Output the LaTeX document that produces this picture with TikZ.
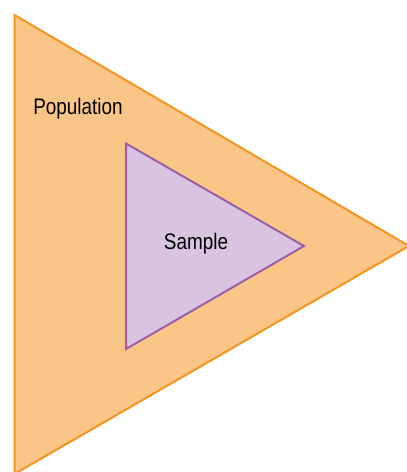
\documentclass[tikz,border=0pt]{standalone}
\usepackage{fontspec}
\newfontfamily\narrowfont[FakeStretch=0.84]{Liberation Sans}
\usetikzlibrary{positioning}
\definecolor{popOrange}{RGB}{247, 148, 30}
\definecolor{popLightOrange}{RGB}{250, 198, 136}
\definecolor{samplePurple}{RGB}{155, 95, 170}
\definecolor{sampleLightPurple}{RGB}{216, 196, 224}

\begin{document}
\begin{tikzpicture}[
  x=1pt, y=-1pt,
  region/.style={line width=2pt, line join=miter},
  label/.style={font=\narrowfont\fontsize{22.5}{26}\selectfont, text=black, inner sep=0pt}
]
  \useasboundingbox (0,0) rectangle (407,472);
  % population
  \coordinate (popTop) at (14.5,15);
  \coordinate (popBottom) at (14.5,474);
  \coordinate (popTip) at (409,246);
  \draw[region,draw=popOrange,fill=popLightOrange] (popTop) -- (popTip) -- (popBottom) -- cycle;
  % sample
  \coordinate (sampleTop) at (126,143.5);
  \coordinate (sampleBottom) at (126,349);
  \coordinate (sampleTip) at (304,246);
  \draw[region,draw=samplePurple,fill=sampleLightPurple] (sampleTop) -- (sampleTip) -- (sampleBottom) -- cycle;
  \node[label] (population) at (78,109) {Population};
  \node[label] (sample) at (196,244) {Sample};
\end{tikzpicture}
\end{document}
